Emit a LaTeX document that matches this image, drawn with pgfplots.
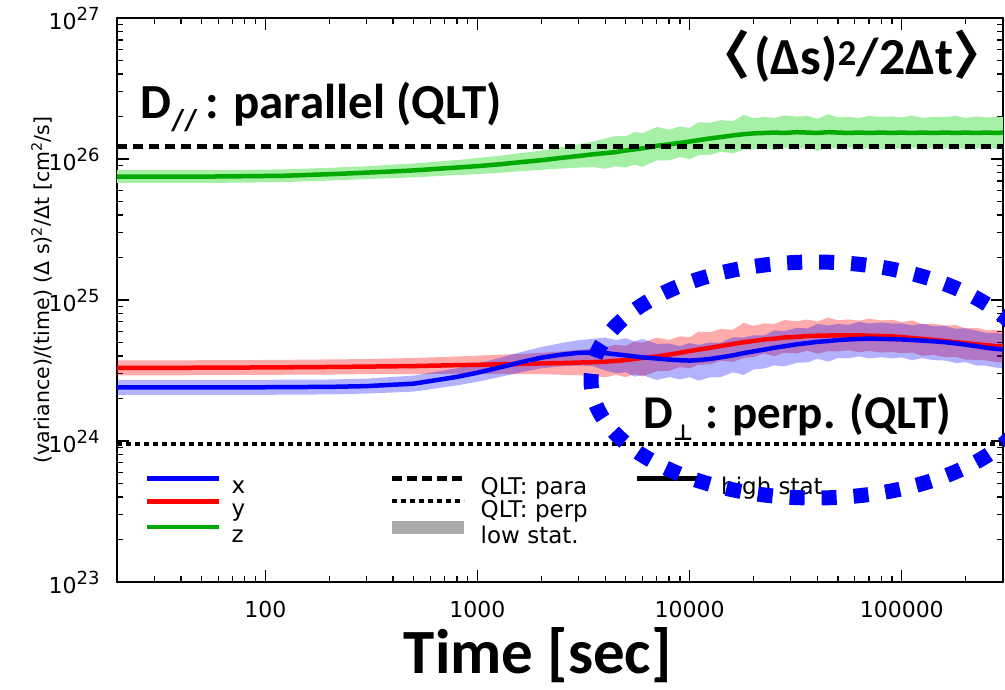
\documentclass[border=0pt]{standalone}
\usepackage{pgfplots}
\pgfplotsset{compat=1.18}
\usepackage{pgfplotstable}
\usepgfplotslibrary{fillbetween}
\usepackage{fontspec}
\setmainfont{DejaVu Sans}
\newfontfamily\calfont{Carlito}
\newfontfamily\cjkfont{Noto Sans CJK SC}
\newfontfamily\symfont{DejaVu Sans}

\definecolor{lineblue}{RGB}{0,0,255}
\definecolor{linered}{RGB}{255,0,0}
\definecolor{linegreen}{RGB}{0,170,0}
\definecolor{bandgreen}{RGB}{165,240,165}
\definecolor{lowgray}{RGB}{170,170,170}

% x: high-statistics run (c) with the low-statistics spread (lo, hi)
\pgfplotstableread{
x c lo hi
20 2.40e24 2.12e24 2.71e24
30 2.40e24 2.12e24 2.71e24
50 2.40e24 2.12e24 2.71e24
80 2.40e24 2.12e24 2.71e24
120 2.41e24 2.13e24 2.72e24
200 2.42e24 2.14e24 2.73e24
300 2.45e24 2.17e24 2.77e24
500 2.55e24 2.24e24 2.91e24
800 2.85e24 2.48e24 3.28e24
1000 3.05e24 2.63e24 3.54e24
1300 3.35e24 2.86e24 3.92e24
1600 3.62e24 3.07e24 4.27e24
2000 3.90e24 3.28e24 4.64e24
2500 4.10e24 3.39e24 4.96e24
3000 4.22e24 3.43e24 5.19e24
3500 4.25e24 3.40e24 5.31e24
4000 4.20e24 3.16e24 5.42e24
4500 4.12e24 3.03e24 5.19e24
5000 4.05e24 3.07e24 5.35e24
5500 3.98e24 2.86e24 5.09e24
6000 3.92e24 2.93e24 5.29e24
7000 3.85e24 2.71e24 4.89e24
8000 3.78e24 2.84e24 4.91e24
9000 3.74e24 2.73e24 4.71e24
10000 3.72e24 2.84e24 4.95e24
11000 3.75e24 2.68e24 4.80e24
12500 3.82e24 2.83e24 5.00e24
14000 3.92e24 2.84e24 4.98e24
16000 4.05e24 3.07e24 5.43e24
18000 4.20e24 2.94e24 5.42e24
20000 4.32e24 3.22e24 5.62e24
22500 4.45e24 3.27e24 5.61e24
25000 4.58e24 3.44e24 6.09e24
28000 4.70e24 3.38e24 6.02e24
32000 4.85e24 3.59e24 6.35e24
36000 4.95e24 3.61e24 6.29e24
40000 5.05e24 3.83e24 6.77e24
45000 5.12e24 3.66e24 6.60e24
50000 5.20e24 3.88e24 6.76e24
56000 5.25e24 3.86e24 6.67e24
63000 5.30e24 3.98e24 7.00e24
70000 5.32e24 3.86e24 6.81e24
80000 5.30e24 3.93e24 6.94e24
90000 5.28e24 3.85e24 6.81e24
100000 5.25e24 3.92e24 6.83e24
112000 5.20e24 3.74e24 6.60e24
125000 5.15e24 3.87e24 6.80e24
140000 5.10e24 3.75e24 6.53e24
160000 5.02e24 3.72e24 6.53e24
180000 4.92e24 3.57e24 6.25e24
200000 4.82e24 3.62e24 6.31e24
225000 4.70e24 3.43e24 6.06e24
250000 4.58e24 3.42e24 5.86e24
280000 4.50e24 3.31e24 5.85e24
300000 4.45e24 3.30e24 5.74e24
}\tabx

% y
\pgfplotstableread{
x c lo hi
20 3.30e24 2.92e24 3.73e24
30 3.30e24 2.92e24 3.73e24
50 3.31e24 2.93e24 3.74e24
80 3.32e24 2.94e24 3.75e24
120 3.33e24 2.95e24 3.76e24
200 3.35e24 2.96e24 3.79e24
300 3.37e24 2.98e24 3.81e24
500 3.40e24 2.98e24 3.88e24
800 3.45e24 3.00e24 3.97e24
1000 3.47e24 2.99e24 4.03e24
1300 3.50e24 2.99e24 4.10e24
1600 3.52e24 2.98e24 4.15e24
2000 3.55e24 2.98e24 4.22e24
2500 3.57e24 2.95e24 4.32e24
3000 3.60e24 2.93e24 4.43e24
3500 3.62e24 2.90e24 4.53e24
4000 3.65e24 2.83e24 4.64e24
4500 3.70e24 2.94e24 4.81e24
5000 3.75e24 2.84e24 4.73e24
5500 3.82e24 2.98e24 5.08e24
6000 3.88e24 2.87e24 4.97e24
7000 3.98e24 3.13e24 5.41e24
8000 4.10e24 3.15e24 5.21e24
9000 4.22e24 3.35e24 5.53e24
10000 4.35e24 3.27e24 5.44e24
11000 4.45e24 3.48e24 5.96e24
12500 4.58e24 3.50e24 5.91e24
14000 4.72e24 3.72e24 6.23e24
16000 4.88e24 3.64e24 6.15e24
18000 5.02e24 3.89e24 6.88e24
20000 5.12e24 3.94e24 6.55e24
22500 5.25e24 4.17e24 6.83e24
25000 5.32e24 4.00e24 6.76e24
28000 5.42e24 4.23e24 7.21e24
32000 5.48e24 4.18e24 7.07e24
36000 5.55e24 4.37e24 7.27e24
40000 5.58e24 4.16e24 7.03e24
45000 5.60e24 4.34e24 7.50e24
50000 5.62e24 4.32e24 7.19e24
56000 5.60e24 4.41e24 7.28e24
63000 5.62e24 4.26e24 7.14e24
70000 5.58e24 4.36e24 7.37e24
80000 5.55e24 4.24e24 7.16e24
90000 5.52e24 4.28e24 7.23e24
100000 5.45e24 4.19e24 6.98e24
112000 5.38e24 4.24e24 7.16e24
125000 5.30e24 4.02e24 6.73e24
140000 5.22e24 4.08e24 6.79e24
160000 5.12e24 3.94e24 6.60e24
180000 5.02e24 3.95e24 6.63e24
200000 4.95e24 3.78e24 6.29e24
225000 4.85e24 3.76e24 6.35e24
250000 4.78e24 3.73e24 6.12e24
280000 4.70e24 3.62e24 6.11e24
300000 4.68e24 3.63e24 6.04e24
}\taby

% z
\pgfplotstableread{
x c lo hi
20 7.50e25 6.76e25 8.33e25
30 7.50e25 6.76e25 8.33e25
50 7.50e25 6.76e25 8.33e25
80 7.55e25 6.80e25 8.38e25
120 7.60e25 6.85e25 8.44e25
200 7.80e25 7.03e25 8.66e25
300 8.00e25 7.21e25 8.88e25
500 8.30e25 7.41e25 9.30e25
800 8.70e25 7.70e25 9.83e25
1000 8.90e25 7.81e25 10.15e25
1300 9.20e25 8.00e25 10.58e25
1600 9.50e25 8.19e25 11.02e25
2000 9.80e25 8.38e25 11.47e25
2500 10.2e25 8.57e25 12.14e25
3000 10.5e25 8.68e25 12.71e25
3500 10.8e25 8.78e25 13.28e25
4000 11.0e25 8.53e25 13.97e25
4500 11.2e25 8.89e25 14.56e25
5000 11.5e25 8.71e25 14.49e25
5500 11.7e25 9.14e25 15.56e25
6000 11.9e25 8.81e25 15.23e25
7000 12.4e25 9.76e25 16.86e25
8000 12.7e25 9.77e25 16.13e25
9000 13.0e25 10.32e25 17.03e25
10000 13.3e25 10.00e25 16.63e25
11000 13.6e25 10.63e25 18.22e25
12500 14.0e25 10.69e25 18.06e25
14000 14.3e25 11.26e25 18.88e25
16000 14.7e25 10.97e25 18.52e25
18000 15.0e25 11.63e25 20.55e25
20000 15.2e25 11.69e25 19.46e25
22500 15.3e25 12.14e25 19.89e25
25000 15.4e25 11.58e25 19.56e25
28000 15.3e25 11.95e25 20.35e25
32000 15.5e25 11.83e25 20.00e25
36000 15.4e25 12.13e25 20.17e25
40000 15.3e25 11.42e25 19.28e25
45000 15.5e25 12.02e25 20.77e25
50000 15.4e25 11.85e25 19.71e25
56000 15.3e25 12.05e25 19.89e25
63000 15.4e25 11.67e25 19.56e25
70000 15.3e25 11.95e25 20.20e25
80000 15.4e25 11.76e25 19.87e25
90000 15.3e25 11.86e25 20.04e25
100000 15.4e25 11.85e25 19.71e25
112000 15.3e25 12.05e25 20.35e25
125000 15.4e25 11.67e25 19.56e25
140000 15.3e25 11.95e25 19.89e25
160000 15.4e25 11.85e25 19.87e25
180000 15.3e25 12.05e25 20.20e25
200000 15.4e25 11.76e25 19.56e25
225000 15.3e25 11.86e25 20.04e25
250000 15.4e25 12.03e25 19.71e25
280000 15.3e25 11.77e25 19.89e25
300000 15.4e25 11.94e25 19.87e25
}\tabz

\newcommand{\tenpow}[1]{\mbox{10\raisebox{9pt}{\fontsize{18}{18}\selectfont #1}}}
% legend text: fixed-width cell with a common strut
\newcommand{\lstrut}{\rule[-6pt]{0pt}{22pt}}
\newcommand{\lent}[1]{\makebox[152pt][l]{\lstrut#1}}
% annotation pieces
\newcommand{\parsub}{\raisebox{-12pt}{\fontsize{30}{30}\selectfont //}}
\newcommand{\perpsub}{\raisebox{-13pt}{\symfont\fontsize{22}{22}\selectfont ⊥}}
\newcommand{\lbr}{{\cjkfont\bfseries 〈}}
\newcommand{\rbr}{{\cjkfont\bfseries 〉}\kern-0.5em}

\begin{document}
\begin{tikzpicture}
\begin{axis}[
  at={(0pt,0pt)}, anchor=south west,
  scale only axis, width=886pt, height=564pt,
  xmode=log, ymode=log,
  xmin=20, xmax=3e5, ymin=1e23, ymax=1e27,
  axis line style={line width=2pt},
  tick align=inside,
  major tick length=12pt, minor tick length=6pt,
  tick style={black, line width=1.3pt},
  xtick={100,1000,10000,100000},
  xticklabels={\mbox{100},\mbox{1000},\mbox{10000},\mbox{100000}},
  minor xtick={20,30,40,50,60,70,80,90,200,300,400,500,600,700,800,900,2000,3000,4000,5000,6000,7000,8000,9000,20000,30000,40000,50000,60000,70000,80000,90000,200000,300000},
  ytick={1e23,1e24,1e25,1e26,1e27},
  yticklabels={\tenpow{23},\tenpow{24},\tenpow{25},\tenpow{26},\tenpow{27}},
  minor ytick={2e23,3e23,4e23,5e23,6e23,7e23,8e23,9e23,2e24,3e24,4e24,5e24,6e24,7e24,8e24,9e24,2e25,3e25,4e25,5e25,6e25,7e25,8e25,9e25,2e26,3e26,4e26,5e26,6e26,7e26,8e26,9e26},
  ticklabel style={font=\fontsize{22}{24}\selectfont},
  xticklabel style={yshift=-16pt},
  yticklabel style={xshift=-14pt},
  xlabel={Time [sec]},
  xlabel style={at={(rel axis cs:0.475,0)}, anchor=base, yshift=-91pt,
    font=\calfont\bfseries\fontsize{63}{70}\selectfont},
  ylabel={(variance)/(time) (Δ s)\textsuperscript{2}/Δt [cm\textsuperscript{2}/s]},
  ylabel style={at={(rel axis cs:-0.085,0.518)}, anchor=center,
    font=\fontsize{20.5}{24}\selectfont},
  legend columns=3,
  legend cell align=left,
  legend image code/.code={\draw[#1] (0pt,8pt) -- (72pt,8pt); \path (80pt,8pt);},
  legend style={at={(0.0316,0.19)}, anchor=north west,
    draw=none, fill=none, inner sep=0pt, row sep=0pt,
    font=\fontsize{23}{26}\selectfont},
]

% legend, row by row
\addlegendimage{lineblue, line width=4.5pt}\addlegendentry{\lent{x}}
\addlegendimage{black, line width=5pt, dash pattern=on 10pt off 5pt}\addlegendentry{\lent{QLT: para}}
\addlegendimage{black, line width=4.5pt}\addlegendentry{\lstrut high stat.}
\addlegendimage{linered, line width=4.5pt}\addlegendentry{\lent{y}}
\addlegendimage{black, line width=4pt, dash pattern=on 5pt off 4pt}\addlegendentry{\lent{QLT: perp}}
\addlegendimage{empty legend}\addlegendentry{\lstrut}
\addlegendimage{linegreen, line width=4.5pt}\addlegendentry{\lent{z}}
\addlegendimage{lowgray, line width=13pt}\addlegendentry{\lent{low stat.}}
\addlegendimage{empty legend}\addlegendentry{\lstrut}

% low-statistics spread
\addplot[name path=zhi, draw=none, forget plot] table[x=x, y=hi] {\tabz};
\addplot[name path=zlo, draw=none, forget plot] table[x=x, y=lo] {\tabz};
\addplot[fill=bandgreen, draw=none, forget plot] fill between[of=zhi and zlo];
\addplot[name path=yhi, draw=none, forget plot] table[x=x, y=hi] {\taby};
\addplot[name path=ylo, draw=none, forget plot] table[x=x, y=lo] {\taby};
\addplot[fill=linered, fill opacity=0.33, draw=none, forget plot] fill between[of=yhi and ylo];
\addplot[name path=xhi, draw=none, forget plot] table[x=x, y=hi] {\tabx};
\addplot[name path=xlo, draw=none, forget plot] table[x=x, y=lo] {\tabx};
\addplot[fill=lineblue, fill opacity=0.3, draw=none, forget plot] fill between[of=xhi and xlo];

% high-statistics runs
\addplot[linegreen, line width=4.5pt, forget plot] table[x=x, y=c] {\tabz};
\addplot[linered, line width=4.5pt, forget plot] table[x=x, y=c] {\taby};
\addplot[lineblue, line width=4.5pt, forget plot] table[x=x, y=c] {\tabx};

% quasi-linear theory levels
\addplot[black, line width=5pt, dash pattern=on 10pt off 6pt, forget plot] coordinates {(20,1.22e26) (3e5,1.22e26)};
\addplot[black, line width=4pt, dash pattern=on 5pt off 4pt, forget plot] coordinates {(20,9.5e23) (3e5,9.5e23)};
\end{axis}

% annotations, placed relative to the axis origin (1pt per pixel)
\node[anchor=base west, font=\calfont\bfseries\fontsize{49}{53}\selectfont]
  at (20pt,463pt) {D\parsub\hspace{8pt}: parallel (QLT)};
\node[anchor=base east, font=\calfont\bfseries\fontsize{52}{56}\selectfont]
  at (866pt,507pt) {\lbr\hspace{4pt}(Δs)\textsuperscript{2}/2Δt\rbr};
\node[anchor=base west, font=\calfont\bfseries\fontsize{47}{51}\selectfont]
  at (523pt,154pt) {D\perpsub\hspace{12pt}: perp. (QLT)};
\draw[lineblue, line width=15pt, dash pattern=on 15pt off 17pt]
  (698pt,202pt) ellipse [x radius=224pt, y radius=118pt];

\pgfresetboundingbox
\useasboundingbox (-117pt,-107pt) rectangle (888pt,582pt);
\end{tikzpicture}
\end{document}
